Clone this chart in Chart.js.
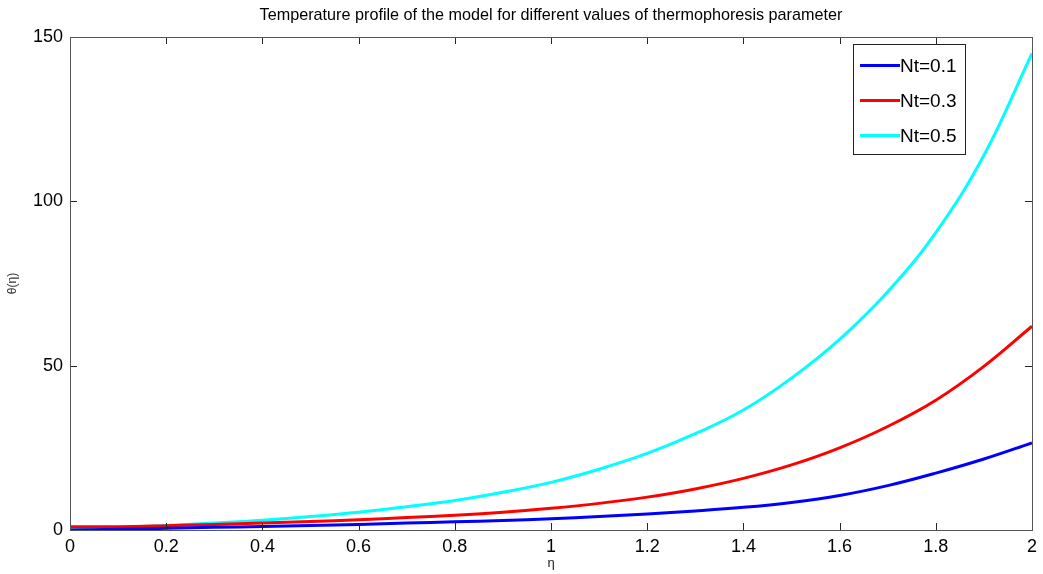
<!DOCTYPE html>
<html>
<head>
<meta charset="utf-8">
<script src="https://cdn.jsdelivr.net/npm/chart.js@4.4.1/dist/chart.umd.min.js"></script>
<style>
  html, body { margin: 0; padding: 0; background: #fff; }
  #wrap { width: 1043px; height: 574px; position: relative; }
</style>
</head>
<body>
<div id="wrap"><canvas id="c" width="1043" height="574"></canvas></div>
<script>
// ---- data ----
const etaValues = [0, 0.1, 0.2, 0.3, 0.4, 0.5, 0.6, 0.7, 0.8, 0.9, 1.0,
                   1.1, 1.2, 1.3, 1.4, 1.5, 1.6, 1.7, 1.8, 1.9, 2.0];
const thetaNt01 = [0, 0.2, 0.5, 0.8, 1.1, 1.4, 1.7, 2.1, 2.5, 2.9, 3.4,
                   4.1, 4.9, 5.8, 6.9, 8.4, 10.5, 13.5, 17.3, 21.6, 26.5];
const thetaNt03 = [1.0, 1.0, 1.3, 1.7, 2.1, 2.6, 3.1, 3.8, 4.5, 5.4, 6.6,
                   8.1, 10.0, 12.5, 15.7, 19.8, 25.0, 31.5, 39.5, 49.8, 62];
const thetaNt05 = [0, 0.7, 1.4, 2.1, 3.0, 4.1, 5.4, 7.1, 9.0, 11.5, 14.5,
                   18.5, 23.3, 29.3, 36.5, 46.2, 58.0, 72.5, 90.5, 114, 145];
const seriesLabels = ['Nt=0.1', 'Nt=0.3', 'Nt=0.5'];
const xTicks = [0, 0.2, 0.4, 0.6, 0.8, 1, 1.2, 1.4, 1.6, 1.8, 2];
const yTicks = [0, 50, 100, 150];
const titleText = 'Temperature profile of the model for different values of thermophoresis parameter';
const xTitle = 'η';
const yTitle = 'θ(η)';

const colors = ['#0000ff', '#ff0000', '#00ffff'];
const seriesValues = [thetaNt01, thetaNt03, thetaNt05];
const toPoints = arr => etaValues.map((x, i) => ({ x: x, y: arr[i] }));

const FONT = "'Liberation Sans', Arial, sans-serif";

// frame + inward ticks
const framePlugin = {
  id: 'frame',
  afterDatasetsDraw(chart) {
    const ctx = chart.ctx, a = chart.chartArea;
    const xs = chart.scales.x, ys = chart.scales.y;
    ctx.save();
    ctx.strokeStyle = '#262626';
    ctx.lineWidth = 1;
    ctx.beginPath();
    const L = 7;
    xTicks.forEach(v => {
      const px = Math.round(xs.getPixelForValue(v)) + 0.5;
      ctx.moveTo(px, a.bottom); ctx.lineTo(px, a.bottom - L);
      ctx.moveTo(px, a.top); ctx.lineTo(px, a.top + L);
    });
    yTicks.forEach(v => {
      const py = Math.round(ys.getPixelForValue(v)) + 0.5;
      ctx.moveTo(a.left, py); ctx.lineTo(a.left + L, py);
      ctx.moveTo(a.right, py); ctx.lineTo(a.right - L, py);
    });
    ctx.stroke();
    ctx.strokeStyle = '#555';
    ctx.strokeRect(Math.round(a.left) + 0.5, Math.round(a.top) + 0.5,
                   Math.round(a.right - a.left), Math.round(a.bottom - a.top));
    ctx.restore();
  }
};

// legend box inside the plot area, top-right
const legendPlugin = {
  id: 'boxLegend',
  afterDraw(chart) {
    const ctx = chart.ctx;
    const bx = 853.5, by = 44.5, bw = 112, bh = 110;
    ctx.save();
    ctx.fillStyle = '#fff';
    ctx.fillRect(bx, by, bw, bh);
    ctx.strokeStyle = '#222';
    ctx.lineWidth = 1;
    ctx.strokeRect(bx, by, bw, bh);
    ctx.font = '19px ' + FONT;
    ctx.textBaseline = 'middle';
    ctx.fillStyle = '#000';
    chart.data.datasets.forEach((ds, i) => {
      const yy = 65.5 + i * 35;
      ctx.strokeStyle = ds.borderColor;
      ctx.lineWidth = 3;
      ctx.beginPath();
      ctx.moveTo(860, yy); ctx.lineTo(900, yy);
      ctx.stroke();
      ctx.fillText(ds.label, 900, yy + 1);
    });
    ctx.restore();
  }
};

new Chart(document.getElementById('c'), {
  type: 'line',
  data: {
    datasets: seriesValues.map((arr, i) => ({
      label: seriesLabels[i],
      data: toPoints(arr),
      borderColor: colors[i],
      backgroundColor: colors[i],
      borderWidth: 3,
      pointRadius: 0,
      tension: 0.4,
      fill: false
    }))
  },
  options: {
    responsive: false,
    animation: false,
    layout: { padding: { left: 0, right: 8, top: 0, bottom: 0 } },
    plugins: {
      legend: { display: false },
      tooltip: { enabled: false },
      title: {
        display: true,
        fullSize: false,
        text: titleText,
        color: '#000',
        font: { family: FONT, size: 16.2, weight: 'normal', lineHeight: 1.2 },
        padding: { top: 6, bottom: 11.56 }
      }
    },
    scales: {
      x: {
        type: 'linear',
        min: 0, max: 2,
        afterBuildTicks: s => { s.ticks = xTicks.map(v => ({ value: v })); },
        afterFit: s => { s.height = 44; },
        grid: { display: false, drawTicks: false },
        border: { display: false },
        ticks: {
          padding: 6,
          color: '#000',
          font: { family: FONT, size: 18 },
          maxRotation: 0,
          autoSkip: false,
          callback: v => String(Number(v.toFixed(1)))
        },
        title: {
          display: true, text: xTitle, color: '#222',
          font: { family: FONT, size: 13 },
          padding: { top: 0, bottom: 3 }
        }
      },
      y: {
        type: 'linear',
        min: 0, max: 150,
        afterBuildTicks: s => { s.ticks = yTicks.map(v => ({ value: v })); },
        afterFit: s => { s.width = 70; },
        grid: { display: false, drawTicks: false },
        border: { display: false },
        ticks: {
          padding: 7,
          color: '#000',
          font: { family: FONT, size: 18 },
          callback: v => String(v)
        },
        title: {
          display: true, text: yTitle, color: '#333',
          font: { family: FONT, size: 12 },
          padding: { top: 5, bottom: 0 }
        }
      }
    }
  },
  plugins: [framePlugin, legendPlugin]
});
</script>
</body>
</html>
